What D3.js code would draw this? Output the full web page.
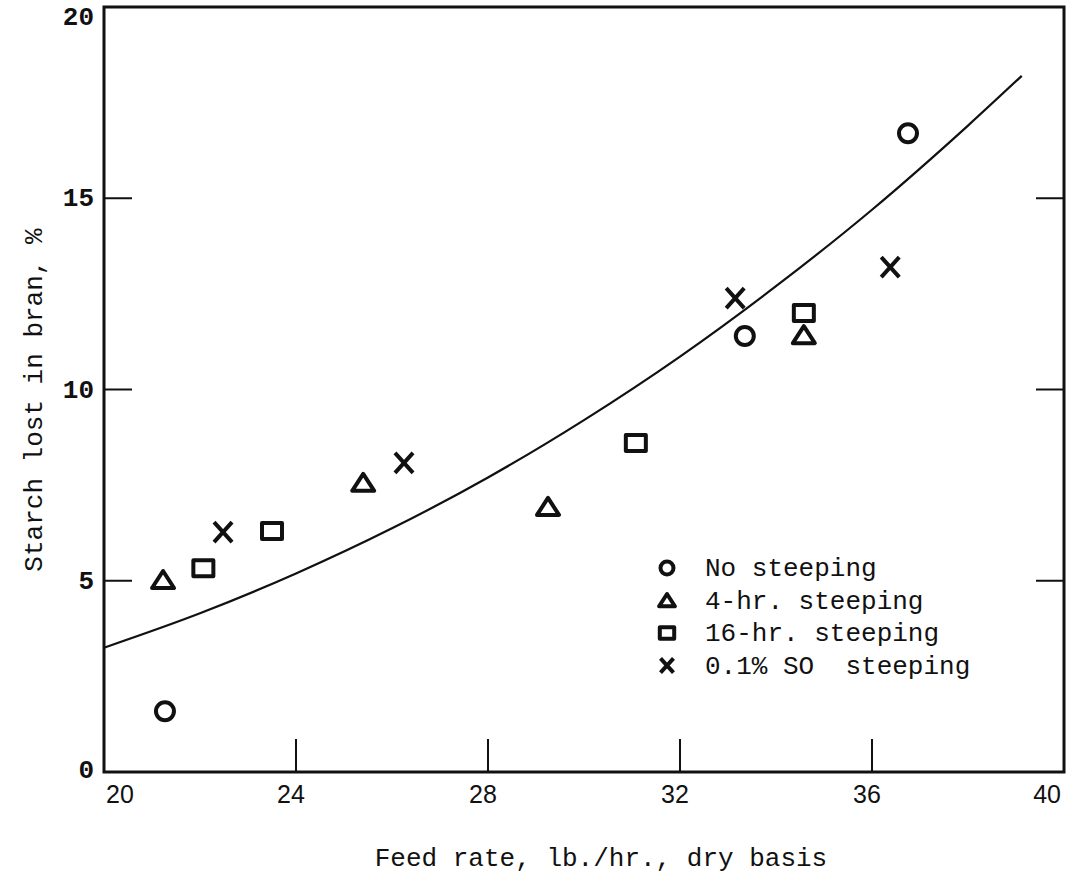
<!DOCTYPE html>
<html>
<head>
<meta charset="utf-8">
<script src="https://cdn.jsdelivr.net/npm/d3@7"></script>
<style>
  html, body { margin: 0; padding: 0; background: #ffffff; }
  svg { display: block; }
  text { white-space: pre; }
</style>
</head>
<body>
<svg id="chart" width="1070" height="877"></svg>
<script>
// Starch lost in bran vs. feed rate, by steeping treatment
const noSteepX = [21.27, 33.35, 36.75];
const noSteepY = [1.59, 11.4, 16.7];
const steep4X = [21.23, 25.4, 29.25, 34.58];
const steep4Y = [5.02, 7.56, 6.93, 11.42];
const steep16X = [22.07, 23.5, 31.08, 34.58];
const steep16Y = [5.33, 6.3, 8.6, 12.0];
const so2X = [22.48, 26.25, 33.15, 36.38];
const so2Y = [6.27, 8.08, 12.39, 13.2];

// Smoothed trend curve
const curveX = [20.0, 22, 24, 26, 28, 30, 32, 34, 36, 38, 39.12];
const curveY = [3.25, 4.15, 5.19, 6.37, 7.7, 9.2, 10.86, 12.7, 14.7, 16.9, 18.2];

const xTicks = [20, 24, 28, 32, 36, 40];
const yTicks = [0, 5, 10, 15, 20];
const legendLabels = ["No steeping", "4-hr. steeping", "16-hr. steeping", "0.1% SO  steeping"];

const svg = d3.select("#chart");
const ink = "#111";

const x = d3.scaleLinear().domain([20, 40]).range([104, 1064]);
const y = d3.scaleLinear().domain([0, 20]).range([772, 7]);

// Frame
svg.append("rect")
  .attr("x", x(20)).attr("y", y(20))
  .attr("width", x(40) - x(20)).attr("height", y(0) - y(20))
  .attr("fill", "none").attr("stroke", ink).attr("stroke-width", 3);

// Inner ticks
const g = svg.append("g").attr("stroke", ink).attr("stroke-width", 2);
xTicks.slice(1, -1).forEach(t => {
  g.append("line").attr("x1", x(t)).attr("x2", x(t)).attr("y1", y(0)).attr("y2", y(0) - 33);
});
yTicks.slice(1, -1).forEach(t => {
  g.append("line").attr("x1", x(20)).attr("x2", x(20) + 28).attr("y1", y(t)).attr("y2", y(t));
  g.append("line").attr("x1", x(40)).attr("x2", x(40) - 28).attr("y1", y(t)).attr("y2", y(t));
});

// Tick labels
const lastX = xTicks.length - 1;
svg.append("g").selectAll("text").data(xTicks).join("text")
  .attr("x", (d, i) => i === 0 ? x(d) + 2 : i === lastX ? x(d) - 3 : x(d) - 5)
  .attr("y", y(0) + 31)
  .attr("text-anchor", (d, i) => i === 0 ? "start" : i === lastX ? "end" : "middle")
  .attr("font-family", "'Liberation Sans Narrow', 'Liberation Sans', sans-serif")
  .attr("font-size", 25).attr("fill", ink)
  .text(d => d);

svg.append("g").selectAll("text").data(yTicks).join("text")
  .attr("x", 94).attr("y", d => y(d) + (d === 20 ? 18 : d === 0 ? 6 : 8))
  .attr("text-anchor", "end")
  .attr("font-family", "'Liberation Mono', monospace")
  .attr("font-size", 26).attr("font-weight", "bold").attr("fill", ink)
  .text(d => d);

// Axis titles
svg.append("text")
  .attr("x", 601).attr("y", 866)
  .attr("text-anchor", "middle")
  .attr("font-family", "'Liberation Mono', monospace")
  .attr("font-size", 26).attr("fill", ink)
  .text("Feed rate, lb./hr., dry basis");

svg.append("text")
  .attr("transform", "translate(42,400) rotate(-90)")
  .attr("text-anchor", "middle")
  .attr("font-family", "'Liberation Mono', monospace")
  .attr("font-size", 26).attr("fill", ink)
  .text("Starch lost in bran, %");

// Trend curve
const line = d3.line().x((d, i) => x(curveX[i])).y(d => y(d)).curve(d3.curveMonotoneX);
svg.append("path").datum(curveY)
  .attr("d", line)
  .attr("fill", "none").attr("stroke", ink).attr("stroke-width", 2.2);

// Marker shapes (path relative to centre, s = scale)
const shapes = {
  circle: s => { const r = 9 * s; return `M${-r},0a${r},${r} 0 1,0 ${2*r},0a${r},${r} 0 1,0 ${-2*r},0Z`; },
  triangle: s => `M0,${-9*s}L${11*s},${8*s}L${-11*s},${8*s}Z`,
  square: s => `M${-10*s},${-8*s}h${20*s}v${16*s}h${-20*s}Z`,
  cross: s => `M${-9*s},${-10*s}L${9*s},${10*s}M${9*s},${-10*s}L${-9*s},${10*s}`
};

function drawMarkers(xs, ys, shape) {
  svg.append("g").selectAll("path").data(ys).join("path")
    .attr("transform", (d, i) => `translate(${x(xs[i])},${y(d)})`)
    .attr("d", shapes[shape](1))
    .attr("fill", "none").attr("stroke", ink)
    .attr("stroke-width", 4).attr("stroke-linejoin", "round");
}
drawMarkers(noSteepX, noSteepY, "circle");
drawMarkers(steep4X, steep4Y, "triangle");
drawMarkers(steep16X, steep16Y, "square");
drawMarkers(so2X, so2Y, "cross");

// Legend
const legendShapes = ["circle", "triangle", "square", "cross"];
const legend = svg.append("g").attr("transform", "translate(667,568)");
legendLabels.forEach((lab, i) => {
  const row = legend.append("g").attr("transform", `translate(0,${i * 32.5})`);
  row.append("path").attr("d", shapes[legendShapes[i]](0.72))
    .attr("fill", "none").attr("stroke", ink).attr("stroke-width", 4).attr("stroke-linejoin", "round");
  row.append("text").attr("x", 38).attr("y", 8)
    .attr("font-family", "'Liberation Mono', monospace")
    .attr("font-size", 26).attr("fill", ink)
    .attr("xml:space", "preserve")
    .text(lab);
});
</script>
</body>
</html>
